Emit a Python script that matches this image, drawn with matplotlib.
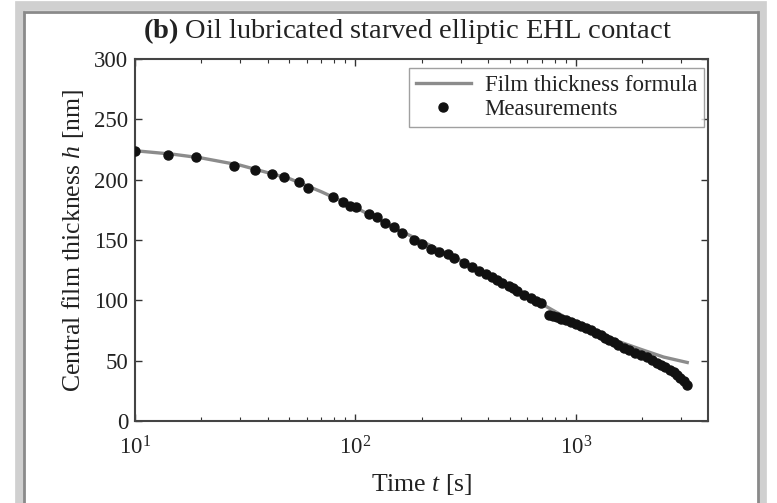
import matplotlib
matplotlib.use("Agg")
import matplotlib.pyplot as plt
from matplotlib.patches import Rectangle
from matplotlib.ticker import LogLocator, FixedLocator

plt.rcParams['font.family'] = ['Liberation Serif', 'DejaVu Serif']
plt.rcParams['mathtext.fontset'] = 'custom'
plt.rcParams['mathtext.rm'] = 'Liberation Serif'
plt.rcParams['mathtext.it'] = 'Liberation Serif:italic'
plt.rcParams['mathtext.bf'] = 'Liberation Serif:bold'

# Measurements (time in s, central film thickness in nm)
meas_t = [10.0, 14.1, 19.0, 28.1, 34.9, 42.0, 47.4, 55.4, 60.8, 78.9, 87.6, 94.0,
          100.7, 114.8, 125.3, 136.7, 149, 162.6, 184.8, 200.4, 219.9, 238.2,
          261.6, 280.8, 311.3, 339.6, 364, 390, 418, 440, 464, 498, 520, 542, 582,
          624, 660, 692, 755, 790, 823, 860, 898, 950, 997, 1050, 1107, 1165, 1228,
          1295, 1362, 1420, 1485, 1560, 1648, 1750, 1862, 1980, 2102, 2220, 2334,
          2440, 2547, 2660, 2775, 2880, 2977, 3080, 3191]
meas_h = [224, 220.8, 218.6, 211.6, 208.3, 205, 202, 197.7, 193, 185.5, 181.3, 178.5,
          177, 171.5, 168.8, 163.7, 160.4, 156.2, 150.4, 147, 142.9, 140.1,
          138, 135.3, 131.2, 127.6, 123.9, 121.5, 119.2, 116.8, 114.2, 111.7, 110, 108, 104.7,
          101.9, 99.8, 97.7, 88, 87, 85.8, 84.8, 83.8, 82, 80.2, 78.5, 76.9, 75.2, 73.3,
          71.2, 69.1, 67.5, 65.7, 63.2, 60.7, 58.5, 56.5, 54.8, 52.9, 50.6, 48.2,
          46.4, 44.5, 42.5, 40.4, 38.2, 35.7, 33.0, 30.0]

# Film thickness formula curve
formula_t = [10, 15, 20, 30, 50, 70, 100, 150, 200, 300, 500, 700, 1000, 1500, 2000, 2500, 3200]
formula_h = [224, 221, 218, 212, 201, 190, 177, 160, 149, 133, 112, 97, 81, 67, 59, 53, 48.5]

title_text = "Oil lubricated starved elliptic EHL contact"
xlabel = "Time $t$ [s]"
ylabel = "Central film thickness $h$ [nm]"
yticks = [0, 50, 100, 150, 200, 250, 300]

fig = plt.figure(figsize=(7.77, 5.03), dpi=100)
fig.patch.set_facecolor('white')

# screenshot-like frame with shadow
fig.patches.append(Rectangle((20/777, -0.05), 742/777, 1 - 6/503 + 0.05, transform=fig.transFigure,
                             facecolor='none', edgecolor='#d0d0d0', linewidth=7, zorder=-2))
fig.patches.append(Rectangle((24/777, -0.05), 734/777, 1 - 12/503 + 0.05, transform=fig.transFigure,
                             facecolor='white', edgecolor='#8a8a8a', linewidth=2.0, zorder=-1))

ax = fig.add_axes([135/777, 1 - 421/503, (708 - 135)/777, (421 - 59)/503])
ax.set_zorder(1)
ax.plot(formula_t, formula_h, color='#8c8c8c', linewidth=2.4, label='Film thickness formula', zorder=2)
ax.plot(meas_t, meas_h, linestyle='none', marker='o', markersize=6.5, color='#111111',
        label='Measurements', zorder=3)

ax.set_xscale('log')
ax.set_xlim(10, 3975)
ax.set_ylim(0, 300)
ax.set_yticks(yticks)
ax.xaxis.set_major_locator(FixedLocator([10, 100, 1000]))
ax.xaxis.set_minor_locator(LogLocator(base=10, subs=range(2, 10)))
ax.set_xticklabels([r'$10^1$', r'$10^2$', r'$10^3$'])

ax.tick_params(which='both', direction='in', top=True, right=True, colors='#333333',
               labelsize=16.5, labelcolor='#222222')
ax.tick_params(which='major', length=5, width=1)
ax.tick_params(which='minor', length=3, width=0.8)
ax.tick_params(axis='x', pad=11)
ax.tick_params(axis='y', pad=5)
for s in ax.spines.values():
    s.set_color('#444444')
    s.set_linewidth(1.5)

ax.set_xlabel(xlabel, fontsize=18.5, color='#222222', labelpad=9)
ax.set_ylabel(ylabel, fontsize=18.5, color='#222222', labelpad=6)

fig.text(407/777, 1 - 31/503, r'$\mathbf{(b)}$ ' + title_text, fontsize=20.5, ha='center', va='center',
         color='#222222')

leg = ax.legend(loc='upper right', fontsize=16.5, frameon=True, fancybox=False,
                edgecolor='#888888', handlelength=2.4, borderpad=0.3, labelspacing=0.15,
                handletextpad=0.6, borderaxespad=0, bbox_to_anchor=(0.993, 0.976))
leg.get_frame().set_linewidth(1.0)
for t in leg.get_texts():
    t.set_color('#222222')

fig.savefig('out.png', dpi=100)
